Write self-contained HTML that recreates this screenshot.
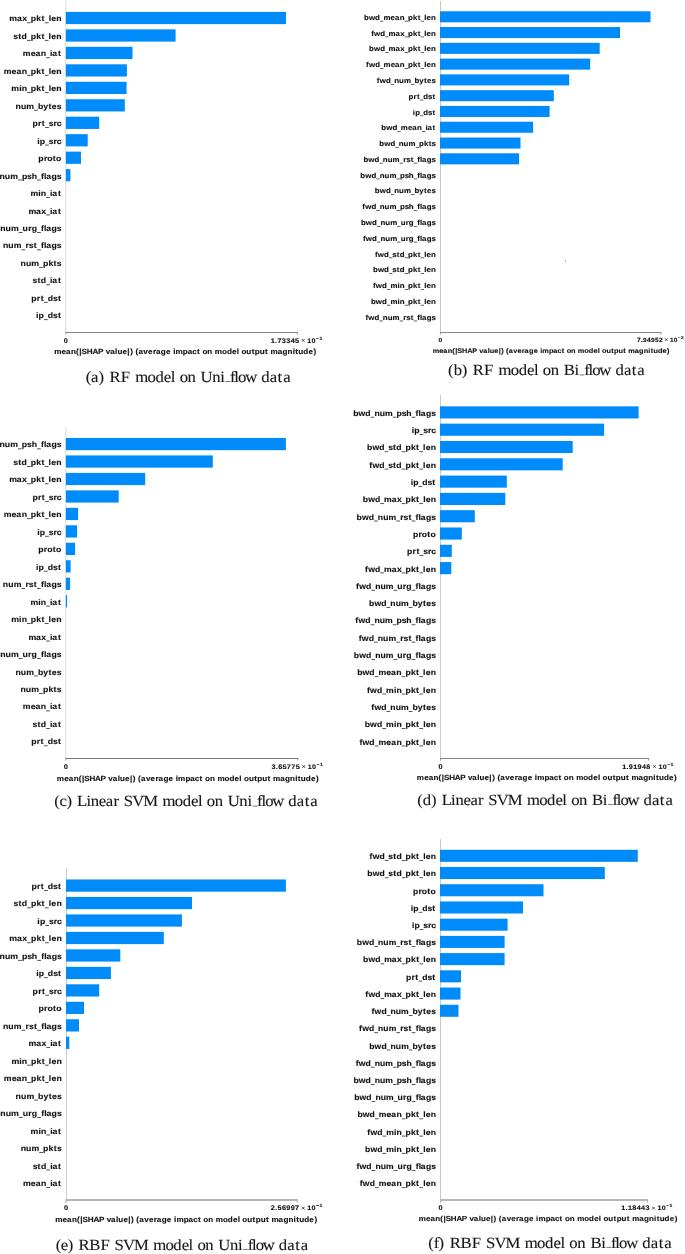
<!DOCTYPE html>
<html><head><meta charset="utf-8"><style>
html,body{margin:0;padding:0;background:#fff;}
svg{display:block;will-change:transform;}
.t{font-family:"Liberation Sans",sans-serif;font-weight:bold;fill:#111;stroke:#111;stroke-width:0.12px;text-rendering:geometricPrecision;}
.c{font-family:"Liberation Serif",serif;fill:#161616;stroke:#161616;stroke-width:0.1px;text-rendering:geometricPrecision;}
</style></head><body>
<svg width="685" height="1254" viewBox="0 0 685 1254">
<rect width="685" height="1254" fill="#fff"/>
<g id="pa">
<rect x="65" y="1" width="1" height="331.4" fill="#e6e6e6"/>
<rect x="66" y="1" width="1" height="331.4" fill="#f3f3f3"/>
<rect x="65.85" y="11.90" width="220.15" height="12.23" fill="#008bfb"/>
<rect x="65.85" y="29.37" width="109.75" height="12.23" fill="#008bfb"/>
<rect x="65.85" y="46.83" width="66.65" height="12.23" fill="#008bfb"/>
<rect x="65.85" y="64.30" width="61.05" height="12.23" fill="#008bfb"/>
<rect x="65.85" y="81.77" width="60.75" height="12.23" fill="#008bfb"/>
<rect x="65.85" y="99.23" width="58.95" height="12.23" fill="#008bfb"/>
<rect x="65.85" y="116.70" width="33.35" height="12.23" fill="#008bfb"/>
<rect x="65.85" y="134.16" width="21.85" height="12.23" fill="#008bfb"/>
<rect x="65.85" y="151.63" width="15.15" height="12.23" fill="#008bfb"/>
<rect x="65.85" y="169.09" width="4.55" height="12.23" fill="#008bfb"/>
<rect x="65.3" y="332" width="232.5" height="1" fill="#868686"/>
<rect x="65.3" y="333" width="1" height="1.6" fill="#999"/>
<rect x="296.8" y="333" width="1" height="1.6" fill="#999"/>
<text class="t" transform="scale(1.0900,1)" x="8.54 15.52 20.34 24.79 28.31 33.33 38.09 41.08 44.63 47.00 51.62" y="21.40" font-size="7.98">max pkt len</text><rect x="27.02" y="22.46" width="3.77" height="0.72" fill="#111"/><rect x="44.78" y="22.46" width="3.77" height="0.72" fill="#111"/>
<text class="t" transform="scale(1.0900,1)" x="12.28 16.83 19.82 24.77 28.29 33.31 38.07 41.06 44.61 46.98 51.60" y="38.87" font-size="7.98">std pkt len</text><rect x="27.00" y="39.92" width="3.77" height="0.72" fill="#111"/><rect x="44.76" y="39.92" width="3.77" height="0.72" fill="#111"/>
<text class="t" transform="scale(1.0900,1)" x="20.94 28.16 32.61 37.45 42.33 45.88 48.01 53.12" y="56.34" font-size="7.98">mean iat</text><rect x="46.14" y="57.39" width="3.77" height="0.72" fill="#111"/>
<text class="t" transform="scale(1.0900,1)" x="3.40 10.62 15.06 19.90 24.79 28.31 33.33 38.09 41.08 44.63 47.00 51.62" y="73.80" font-size="7.98">mean pkt len</text><rect x="27.02" y="74.86" width="3.77" height="0.72" fill="#111"/><rect x="44.78" y="74.86" width="3.77" height="0.72" fill="#111"/>
<text class="t" transform="scale(1.0900,1)" x="10.37 17.59 19.90 24.78 28.31 33.33 38.08 41.08 44.63 47.00 51.62" y="91.27" font-size="7.98">min pkt len</text><rect x="27.01" y="92.32" width="3.77" height="0.72" fill="#111"/><rect x="44.78" y="92.32" width="3.77" height="0.72" fill="#111"/>
<text class="t" transform="scale(1.0900,1)" x="14.27 19.19 24.15 31.27 34.80 39.68 44.48 47.57 52.04" y="108.73" font-size="7.98">num bytes</text><rect x="34.09" y="109.79" width="3.77" height="0.72" fill="#111"/>
<text class="t" transform="scale(1.0900,1)" x="29.79 34.89 38.37 41.37 44.70 49.16 52.05" y="126.20" font-size="7.98">prt src</text><rect x="45.09" y="127.25" width="3.77" height="0.72" fill="#111"/>
<text class="t" transform="scale(1.0900,1)" x="34.16 36.51 41.38 44.71 49.17 52.06" y="143.66" font-size="7.98">ip src</text><rect x="45.10" y="144.72" width="3.77" height="0.72" fill="#111"/>
<text class="t" transform="scale(1.0900,1)" x="35.17 40.28 43.40 48.50 51.45" y="161.13" font-size="7.98">proto</text>
<text class="t" transform="scale(1.0900,1)" x="-0.44 4.48 9.43 16.56 20.09 24.83 29.08 33.99 37.65 40.41 42.42 47.22 52.05" y="178.60" font-size="7.98">num psh flags</text><rect x="18.05" y="179.65" width="3.77" height="0.72" fill="#111"/><rect x="37.05" y="179.65" width="3.77" height="0.72" fill="#111"/>
<text class="t" transform="scale(1.0900,1)" x="27.92 35.14 37.45 42.33 45.88 48.01 53.12" y="196.06" font-size="7.98">min iat</text><rect x="46.14" y="197.12" width="3.77" height="0.72" fill="#111"/>
<text class="t" transform="scale(1.0900,1)" x="26.09 33.07 37.89 42.33 45.88 48.01 53.12" y="213.53" font-size="7.98">max iat</text><rect x="46.14" y="214.58" width="3.77" height="0.72" fill="#111"/>
<text class="t" transform="scale(1.0900,1)" x="0.25 5.17 10.12 17.25 20.74 25.85 29.02 33.97 37.64 40.40 42.40 47.21 52.03" y="230.99" font-size="7.98">num urg flags</text><rect x="18.80" y="232.05" width="3.77" height="0.72" fill="#111"/><rect x="37.03" y="232.05" width="3.77" height="0.72" fill="#111"/>
<text class="t" transform="scale(1.0900,1)" x="2.70 7.62 12.58 19.70 23.38 26.44 30.98 33.98 37.64 40.40 42.41 47.21 52.04" y="248.46" font-size="7.98">num rst flags</text><rect x="21.47" y="249.51" width="3.77" height="0.72" fill="#111"/><rect x="37.03" y="249.51" width="3.77" height="0.72" fill="#111"/>
<text class="t" transform="scale(1.0900,1)" x="18.86 23.79 28.74 35.87 39.39 44.41 49.17 52.04" y="265.93" font-size="7.98">num pkts</text><rect x="39.09" y="266.98" width="3.77" height="0.72" fill="#111"/>
<text class="t" transform="scale(1.0900,1)" x="29.87 34.41 37.40 42.35 45.90 48.03 53.14" y="283.39" font-size="7.98">std iat</text><rect x="46.16" y="284.45" width="3.77" height="0.72" fill="#111"/>
<text class="t" transform="scale(1.0900,1)" x="28.71 33.82 37.30 40.30 43.75 48.57 53.11" y="300.86" font-size="7.98">prt dst</text><rect x="43.92" y="301.91" width="3.77" height="0.72" fill="#111"/>
<text class="t" transform="scale(1.0900,1)" x="33.09 35.43 40.31 43.76 48.58 53.12" y="318.32" font-size="7.98">ip dst</text><rect x="43.93" y="319.38" width="3.77" height="0.72" fill="#111"/>
<text class="t" transform="scale(1.0900,1)" x="49.80 56.53 60.67 65.18 69.79 72.80 74.87 79.67 84.86 89.93 94.74 97.01 101.05 105.61 107.77 112.40 116.81 119.40 121.97 124.28 127.02 131.53 135.78 140.27 143.10 147.57 152.28 156.55 158.88 161.07 167.77 172.18 176.39 180.76 183.55 185.74 190.24 194.80 197.11 203.70 208.16 212.86 217.23 219.35 221.54 226.04 230.88 233.74 238.31 243.14 245.94 248.25 254.75 259.23 263.87 268.51 270.91 273.74 278.28 282.98 287.63" y="353.80" font-size="7.44">mean(|SHAP value|) (average impact on model output magnitude)</text>
<text class="t" transform="scale(1.0900,1)" x="58.54" y="342.70" font-size="6.75">0</text>
<text class="t" transform="scale(1.0900,1)" x="248.29 252.35 254.51 258.59 262.63 266.66 270.73" y="342.70" font-size="6.72">1.73345</text>
<path d="M301.90 339.05L304.60 341.75M301.90 341.75L304.60 339.05" stroke="#111" stroke-width="0.75" fill="none"/>
<text class="t" transform="scale(1.0900,1)" x="281.88 285.84" y="342.70" font-size="6.55">10</text>
<text class="t" transform="scale(1.0900,1)" x="289.90 293.12" y="339.70" font-size="4.75">−1</text>
<text class="c" transform="scale(1.0700,1)" x="80.04 85.16 92.13 97.67 102.29 112.92 121.86 126.37 137.84 145.29 153.07 159.55 163.60 167.88 175.29 183.11 187.43 198.31 205.91" y="382.00" font-size="15.63">(a) RF model on Uni</text>
<rect x="225.65" y="381.32" width="4.51" height="0.68" fill="#333"/>
<text class="c" transform="scale(1.0700,1)" x="214.98 219.04 222.51 229.20 239.68 244.19 252.15 259.46 264.64" y="382.00" font-size="15.63">flow data</text>
</g>
<g id="pb">
<rect x="440" y="1" width="1" height="331.4" fill="#c6c6c6"/>
<rect x="440.00" y="11.26" width="210.50" height="11.05" fill="#008bfb"/>
<rect x="440.00" y="27.04" width="180.00" height="11.05" fill="#008bfb"/>
<rect x="440.00" y="42.82" width="159.70" height="11.05" fill="#008bfb"/>
<rect x="440.00" y="58.60" width="150.20" height="11.05" fill="#008bfb"/>
<rect x="440.00" y="74.38" width="129.20" height="11.05" fill="#008bfb"/>
<rect x="440.00" y="90.16" width="113.80" height="11.05" fill="#008bfb"/>
<rect x="440.00" y="105.94" width="109.60" height="11.05" fill="#008bfb"/>
<rect x="440.00" y="121.72" width="93.10" height="11.05" fill="#008bfb"/>
<rect x="440.00" y="137.51" width="80.50" height="11.05" fill="#008bfb"/>
<rect x="440.00" y="153.29" width="79.10" height="11.05" fill="#008bfb"/>
<rect x="439.9" y="332" width="221.5" height="1" fill="#888888"/>
<rect x="439.9" y="333" width="1" height="1.6" fill="#999"/>
<rect x="660.4" y="333" width="1" height="1.6" fill="#999"/>
<text class="t" transform="scale(1.0900,1)" x="333.94 338.43 344.13 348.62 351.81 358.35 362.38 366.76 371.18 374.38 378.93 383.23 385.94 389.16 391.30 395.49" y="19.85" font-size="7.23">bwd mean pkt len</text><rect x="379.99" y="20.80" width="3.41" height="0.65" fill="#111"/><rect x="404.59" y="20.80" width="3.41" height="0.65" fill="#111"/><rect x="420.68" y="20.80" width="3.41" height="0.65" fill="#111"/>
<text class="t" transform="scale(1.0900,1)" x="340.51 343.12 348.82 353.30 356.50 362.82 367.19 371.21 374.40 378.95 383.26 385.97 389.18 391.33 395.51" y="35.63" font-size="7.23">fwd max pkt len</text><rect x="385.10" y="36.59" width="3.41" height="0.65" fill="#111"/><rect x="404.62" y="36.59" width="3.41" height="0.65" fill="#111"/><rect x="420.71" y="36.59" width="3.41" height="0.65" fill="#111"/>
<text class="t" transform="scale(1.0900,1)" x="338.64 343.12 348.83 353.31 356.50 362.83 367.19 371.21 374.41 378.96 383.26 385.97 389.19 391.33 395.52" y="51.41" font-size="7.23">bwd max pkt len</text><rect x="385.11" y="52.37" width="3.41" height="0.65" fill="#111"/><rect x="404.62" y="52.37" width="3.41" height="0.65" fill="#111"/><rect x="420.71" y="52.37" width="3.41" height="0.65" fill="#111"/>
<text class="t" transform="scale(1.0900,1)" x="335.85 338.46 344.16 348.64 351.84 358.38 362.40 366.79 371.21 374.41 378.95 383.26 385.97 389.18 391.33 395.52" y="67.19" font-size="7.23">fwd mean pkt len</text><rect x="380.02" y="68.15" width="3.41" height="0.65" fill="#111"/><rect x="404.62" y="68.15" width="3.41" height="0.65" fill="#111"/><rect x="420.71" y="68.15" width="3.41" height="0.65" fill="#111"/>
<text class="t" transform="scale(1.0900,1)" x="345.74 348.34 354.05 358.53 361.69 366.14 370.63 377.08 380.28 384.70 389.05 391.85 395.89" y="82.97" font-size="7.23">fwd num bytes</text><rect x="390.80" y="83.93" width="3.41" height="0.65" fill="#111"/><rect x="411.02" y="83.93" width="3.41" height="0.65" fill="#111"/>
<text class="t" transform="scale(1.0900,1)" x="374.77 379.39 382.55 385.26 388.38 392.76 396.87" y="98.75" font-size="7.23">prt dst</text><rect x="419.93" y="99.71" width="3.41" height="0.65" fill="#111"/>
<text class="t" transform="scale(1.0900,1)" x="378.73 380.86 385.27 388.39 392.77 396.88" y="114.54" font-size="7.23">ip dst</text><rect x="419.94" y="115.49" width="3.41" height="0.65" fill="#111"/>
<text class="t" transform="scale(1.0900,1)" x="349.87 354.35 360.06 364.54 367.74 374.27 378.30 382.68 387.11 390.32 392.25 396.88" y="130.32" font-size="7.23">bwd mean iat</text><rect x="397.35" y="131.27" width="3.41" height="0.65" fill="#111"/><rect x="421.95" y="131.27" width="3.41" height="0.65" fill="#111"/>
<text class="t" transform="scale(1.0900,1)" x="348.02 352.51 358.21 362.69 365.85 370.31 374.80 381.25 384.45 388.99 393.30 395.90" y="146.10" font-size="7.23">bwd num pkts</text><rect x="395.34" y="147.05" width="3.41" height="0.65" fill="#111"/><rect x="415.56" y="147.05" width="3.41" height="0.65" fill="#111"/>
<text class="t" transform="scale(1.0900,1)" x="333.38 337.87 343.57 348.05 351.21 355.67 360.16 366.61 369.95 372.71 376.83 379.54 382.86 385.36 387.17 391.52 395.89" y="161.88" font-size="7.23">bwd num rst flags</text><rect x="379.38" y="162.83" width="3.41" height="0.65" fill="#111"/><rect x="399.60" y="162.83" width="3.41" height="0.65" fill="#111"/><rect x="413.70" y="162.83" width="3.41" height="0.65" fill="#111"/>
<text class="t" transform="scale(1.0900,1)" x="330.53 335.02 340.72 345.21 348.36 352.82 357.31 363.76 366.96 371.26 375.11 379.55 382.87 385.37 387.18 391.53 395.90" y="177.66" font-size="7.23">bwd num psh flags</text><rect x="376.27" y="178.61" width="3.41" height="0.65" fill="#111"/><rect x="396.50" y="178.61" width="3.41" height="0.65" fill="#111"/><rect x="413.71" y="178.61" width="3.41" height="0.65" fill="#111"/>
<text class="t" transform="scale(1.0900,1)" x="343.86 348.35 354.05 358.53 361.69 366.15 370.64 377.09 380.28 384.71 389.05 391.85 395.90" y="193.44" font-size="7.23">bwd num bytes</text><rect x="390.80" y="194.40" width="3.41" height="0.65" fill="#111"/><rect x="411.03" y="194.40" width="3.41" height="0.65" fill="#111"/>
<text class="t" transform="scale(1.0900,1)" x="332.41 335.02 340.72 345.20 348.36 352.82 357.31 363.76 366.95 371.25 375.10 379.54 382.86 385.36 387.18 391.53 395.90" y="209.22" font-size="7.23">fwd num psh flags</text><rect x="376.27" y="210.18" width="3.41" height="0.65" fill="#111"/><rect x="396.50" y="210.18" width="3.41" height="0.65" fill="#111"/><rect x="413.70" y="210.18" width="3.41" height="0.65" fill="#111"/>
<text class="t" transform="scale(1.0900,1)" x="331.16 335.65 341.35 345.83 348.99 353.45 357.94 364.39 367.55 372.18 375.05 379.54 382.85 385.36 387.17 391.52 395.89" y="225.00" font-size="7.23">bwd num urg flags</text><rect x="376.96" y="225.96" width="3.41" height="0.65" fill="#111"/><rect x="397.18" y="225.96" width="3.41" height="0.65" fill="#111"/><rect x="413.69" y="225.96" width="3.41" height="0.65" fill="#111"/>
<text class="t" transform="scale(1.0900,1)" x="333.03 335.64 341.34 345.83 348.98 353.44 357.93 364.38 367.55 372.17 375.05 379.53 382.85 385.35 387.17 391.52 395.89" y="240.78" font-size="7.23">fwd num urg flags</text><rect x="376.95" y="241.74" width="3.41" height="0.65" fill="#111"/><rect x="397.18" y="241.74" width="3.41" height="0.65" fill="#111"/><rect x="413.69" y="241.74" width="3.41" height="0.65" fill="#111"/>
<text class="t" transform="scale(1.0900,1)" x="344.08 346.68 352.39 356.87 359.89 364.00 366.71 371.19 374.39 378.93 383.24 385.95 389.17 391.31 395.50" y="256.56" font-size="7.23">fwd std pkt len</text><rect x="388.99" y="257.52" width="3.41" height="0.65" fill="#111"/><rect x="404.60" y="257.52" width="3.41" height="0.65" fill="#111"/><rect x="420.69" y="257.52" width="3.41" height="0.65" fill="#111"/>
<text class="t" transform="scale(1.0900,1)" x="342.20 346.69 352.39 356.87 359.89 364.00 366.72 371.20 374.39 378.94 383.24 385.96 389.17 391.32 395.50" y="272.35" font-size="7.23">bwd std pkt len</text><rect x="388.99" y="273.30" width="3.41" height="0.65" fill="#111"/><rect x="404.60" y="273.30" width="3.41" height="0.65" fill="#111"/><rect x="420.69" y="273.30" width="3.41" height="0.65" fill="#111"/>
<text class="t" transform="scale(1.0900,1)" x="342.17 344.78 350.48 354.96 358.16 364.69 366.78 371.21 374.40 378.95 383.25 385.97 389.18 391.33 395.51" y="288.13" font-size="7.23">fwd min pkt len</text><rect x="386.91" y="289.08" width="3.41" height="0.65" fill="#111"/><rect x="404.62" y="289.08" width="3.41" height="0.65" fill="#111"/><rect x="420.71" y="289.08" width="3.41" height="0.65" fill="#111"/>
<text class="t" transform="scale(1.0900,1)" x="340.29 344.78 350.48 354.97 358.16 364.70 366.79 371.21 374.41 378.95 383.26 385.97 389.19 391.33 395.52" y="303.91" font-size="7.23">bwd min pkt len</text><rect x="386.91" y="304.86" width="3.41" height="0.65" fill="#111"/><rect x="404.62" y="304.86" width="3.41" height="0.65" fill="#111"/><rect x="420.71" y="304.86" width="3.41" height="0.65" fill="#111"/>
<text class="t" transform="scale(1.0900,1)" x="335.26 337.86 343.57 348.05 351.21 355.66 360.15 366.60 369.94 372.71 376.82 379.53 382.85 385.35 387.17 391.52 395.89" y="319.69" font-size="7.23">fwd num rst flags</text><rect x="379.37" y="320.64" width="3.41" height="0.65" fill="#111"/><rect x="399.60" y="320.64" width="3.41" height="0.65" fill="#111"/><rect x="413.69" y="320.64" width="3.41" height="0.65" fill="#111"/>
<text class="t" transform="scale(1.0900,1)" x="396.91 402.99 406.74 410.82 415.00 417.72 419.58 423.93 428.62 433.21 437.56 439.62 443.26 447.39 449.34 453.54 457.53 459.87 462.19 464.28 466.76 470.84 474.69 478.75 481.30 485.35 489.60 493.47 495.58 497.56 503.62 507.61 511.42 515.37 517.89 519.88 523.95 528.07 530.16 536.12 540.16 544.41 548.36 550.27 552.26 556.33 560.71 563.29 567.43 571.80 574.33 576.42 582.30 586.35 590.55 594.74 596.92 599.47 603.59 607.84 612.04" y="352.60" font-size="6.73">mean(|SHAP value|) (average impact on model output magnitude)</text>
<text class="t" transform="scale(1.0900,1)" x="402.34" y="341.73" font-size="6.12">0</text>
<text class="t" transform="scale(1.0900,1)" x="584.40 588.09 590.03 593.67 597.30 600.97 604.61" y="341.73" font-size="6.04">7.94952</text>
<path d="M665.07 338.42L667.51 340.87M665.07 340.87L667.51 338.42" stroke="#111" stroke-width="0.68" fill="none"/>
<text class="t" transform="scale(1.0900,1)" x="614.60 618.19" y="341.73" font-size="5.93">10</text>
<text class="t" transform="scale(1.0900,1)" x="621.86 624.82" y="339.01" font-size="4.35">−2</text>
<text class="c" transform="scale(1.0700,1)" x="418.73 424.14 431.60 437.13 441.75 452.37 461.30 465.82 477.27 484.71 492.49 498.96 503.02 507.29 514.69 522.51 526.92 536.90" y="375.30" font-size="15.62">(b) RF model on Bi</text>
<rect x="579.80" y="374.62" width="4.51" height="0.68" fill="#333"/>
<text class="c" transform="scale(1.0700,1)" x="545.96 550.02 553.49 560.17 570.64 575.14 583.10 590.40 595.58" y="375.30" font-size="15.62">flow data</text>
<rect x="565" y="260" width="1" height="2" fill="#b4b4b4"/>
</g>
<g id="pc">
<rect x="65" y="427" width="1" height="331.5" fill="#e6e6e6"/>
<rect x="66" y="427" width="1" height="331.5" fill="#f3f3f3"/>
<rect x="65.85" y="437.95" width="220.05" height="12.23" fill="#008bfb"/>
<rect x="65.85" y="455.42" width="146.95" height="12.23" fill="#008bfb"/>
<rect x="65.85" y="472.89" width="79.35" height="12.23" fill="#008bfb"/>
<rect x="65.85" y="490.36" width="52.85" height="12.23" fill="#008bfb"/>
<rect x="65.85" y="507.83" width="12.25" height="12.23" fill="#008bfb"/>
<rect x="65.85" y="525.30" width="11.25" height="12.23" fill="#008bfb"/>
<rect x="65.85" y="542.76" width="9.25" height="12.23" fill="#008bfb"/>
<rect x="65.85" y="560.23" width="4.75" height="12.23" fill="#008bfb"/>
<rect x="65.85" y="577.70" width="4.25" height="12.23" fill="#008bfb"/>
<rect x="65.85" y="595.17" width="1.15" height="12.23" fill="#008bfb"/>
<rect x="65.3" y="758" width="233.0" height="1" fill="#777777"/>
<rect x="65.3" y="759" width="1" height="1.6" fill="#999"/>
<rect x="297.3" y="759" width="1" height="1.6" fill="#999"/>
<text class="t" transform="scale(1.0900,1)" x="-0.52 4.41 9.37 16.51 20.04 24.79 29.05 33.96 37.63 40.39 42.40 47.21 52.04" y="447.46" font-size="7.99">num psh flags</text><rect x="17.99" y="448.52" width="3.77" height="0.72" fill="#111"/><rect x="37.01" y="448.52" width="3.77" height="0.72" fill="#111"/>
<text class="t" transform="scale(1.0900,1)" x="12.23 16.77 19.77 24.72 28.26 33.28 38.04 41.04 44.60 46.97 51.60" y="464.93" font-size="7.99">std pkt len</text><rect x="26.95" y="465.99" width="3.77" height="0.72" fill="#111"/><rect x="44.74" y="465.99" width="3.77" height="0.72" fill="#111"/>
<text class="t" transform="scale(1.0900,1)" x="8.48 15.47 20.29 24.74 28.28 33.30 38.06 41.06 44.61 46.99 51.62" y="482.40" font-size="7.99">max pkt len</text><rect x="26.97" y="483.45" width="3.77" height="0.72" fill="#111"/><rect x="44.76" y="483.45" width="3.77" height="0.72" fill="#111"/>
<text class="t" transform="scale(1.0900,1)" x="29.75 34.86 38.35 41.35 44.68 49.15 52.05" y="499.87" font-size="7.99">prt src</text><rect x="45.07" y="500.92" width="3.77" height="0.72" fill="#111"/>
<text class="t" transform="scale(1.0900,1)" x="3.33 10.56 15.01 19.85 24.74 28.28 33.30 38.06 41.06 44.62 46.99 51.62" y="517.34" font-size="7.99">mean pkt len</text><rect x="26.97" y="518.39" width="3.77" height="0.72" fill="#111"/><rect x="44.76" y="518.39" width="3.77" height="0.72" fill="#111"/>
<text class="t" transform="scale(1.0900,1)" x="34.13 36.48 41.36 44.69 49.16 52.06" y="534.80" font-size="7.99">ip src</text><rect x="45.08" y="535.86" width="3.77" height="0.72" fill="#111"/>
<text class="t" transform="scale(1.0900,1)" x="35.15 40.25 43.38 48.50 51.44" y="552.27" font-size="7.99">proto</text>
<text class="t" transform="scale(1.0900,1)" x="33.06 35.41 40.29 43.74 48.57 53.12" y="569.74" font-size="7.99">ip dst</text><rect x="43.91" y="570.80" width="3.77" height="0.72" fill="#111"/>
<text class="t" transform="scale(1.0900,1)" x="2.63 7.56 12.52 19.65 23.34 26.40 30.95 33.95 37.62 40.38 42.39 47.20 52.03" y="587.21" font-size="7.99">num rst flags</text><rect x="21.42" y="588.26" width="3.77" height="0.72" fill="#111"/><rect x="37.00" y="588.26" width="3.77" height="0.72" fill="#111"/>
<text class="t" transform="scale(1.0900,1)" x="27.88 35.11 37.42 42.31 45.87 48.00 53.12" y="604.68" font-size="7.99">min iat</text><rect x="46.12" y="605.73" width="3.77" height="0.72" fill="#111"/>
<text class="t" transform="scale(1.0900,1)" x="10.31 17.54 19.85 24.74 28.28 33.30 38.06 41.06 44.61 46.99 51.61" y="622.15" font-size="7.99">min pkt len</text><rect x="26.97" y="623.20" width="3.77" height="0.72" fill="#111"/><rect x="44.76" y="623.20" width="3.77" height="0.72" fill="#111"/>
<text class="t" transform="scale(1.0900,1)" x="26.05 33.04 37.87 42.31 45.87 48.00 53.12" y="639.61" font-size="7.99">max iat</text><rect x="46.12" y="640.67" width="3.77" height="0.72" fill="#111"/>
<text class="t" transform="scale(1.0900,1)" x="0.17 5.10 10.06 17.20 20.69 25.81 28.99 33.94 37.61 40.38 42.39 47.19 52.03" y="657.08" font-size="7.99">num urg flags</text><rect x="18.74" y="658.14" width="3.77" height="0.72" fill="#111"/><rect x="37.00" y="658.14" width="3.77" height="0.72" fill="#111"/>
<text class="t" transform="scale(1.0900,1)" x="14.21 19.14 24.11 31.24 34.77 39.66 44.47 47.56 52.03" y="674.55" font-size="7.99">num bytes</text><rect x="34.05" y="675.61" width="3.77" height="0.72" fill="#111"/>
<text class="t" transform="scale(1.0900,1)" x="18.81 23.74 28.71 35.84 39.37 44.40 49.16 52.03" y="692.02" font-size="7.99">num pkts</text><rect x="39.06" y="693.07" width="3.77" height="0.72" fill="#111"/>
<text class="t" transform="scale(1.0900,1)" x="20.90 28.13 32.58 37.42 42.31 45.87 48.00 53.12" y="709.49" font-size="7.99">mean iat</text><rect x="46.12" y="710.54" width="3.77" height="0.72" fill="#111"/>
<text class="t" transform="scale(1.0900,1)" x="29.83 34.38 37.37 42.33 45.88 48.02 53.13" y="726.96" font-size="7.99">std iat</text><rect x="46.14" y="728.01" width="3.77" height="0.72" fill="#111"/>
<text class="t" transform="scale(1.0900,1)" x="28.68 33.79 37.27 40.27 43.73 48.56 53.11" y="744.42" font-size="7.99">prt dst</text><rect x="43.90" y="745.48" width="3.77" height="0.72" fill="#111"/>
<text class="t" transform="scale(1.0900,1)" x="52.18 58.91 63.05 67.55 72.17 75.18 77.24 82.04 87.23 92.30 97.11 99.38 103.41 107.98 110.13 114.76 119.17 121.76 124.33 126.64 129.38 133.88 138.14 142.62 145.45 149.92 154.62 158.90 161.22 163.41 170.11 174.52 178.73 183.09 185.88 188.08 192.58 197.13 199.44 206.02 210.49 215.19 219.55 221.67 223.86 228.36 233.19 236.05 240.63 245.46 248.25 250.56 257.06 261.53 266.17 270.81 273.21 276.04 280.58 285.28 289.92" y="780.50" font-size="7.43">mean(|SHAP value|) (average impact on model output magnitude)</text>
<text class="t" transform="scale(1.0900,1)" x="58.54" y="768.81" font-size="6.76">0</text>
<text class="t" transform="scale(1.0900,1)" x="249.00 253.03 255.22 259.21 263.18 267.18 271.23" y="768.81" font-size="6.65">3.65775</text>
<path d="M302.41 765.16L305.11 767.86M302.41 767.86L305.11 765.16" stroke="#111" stroke-width="0.75" fill="none"/>
<text class="t" transform="scale(1.0900,1)" x="282.35 286.32" y="768.81" font-size="6.56">10</text>
<text class="t" transform="scale(1.0900,1)" x="290.38 293.61" y="765.81" font-size="4.76">−1</text>
<text class="c" transform="scale(1.0700,1)" x="50.79 55.53 62.07 67.61 72.06 80.82 84.92 92.35 98.95 106.05 111.47 115.67 123.58 133.93 147.32 151.83 163.28 170.72 178.49 184.95 189.00 193.28 200.67 208.48 212.80 223.66 231.25" y="806.40" font-size="15.61">(c) Linear SVM model on Uni</text>
<rect x="252.75" y="805.72" width="4.50" height="0.68" fill="#333"/>
<text class="c" transform="scale(1.0700,1)" x="240.31 244.35 247.82 254.50 264.96 269.46 277.41 284.71 289.88" y="806.40" font-size="15.61">flow data</text>
</g>
<g id="pd">
<rect x="440" y="395" width="1" height="363.5" fill="#cbcbcb"/>
<rect x="440.00" y="406.35" width="198.60" height="12.11" fill="#008bfb"/>
<rect x="440.00" y="423.65" width="164.10" height="12.11" fill="#008bfb"/>
<rect x="440.00" y="440.96" width="132.70" height="12.11" fill="#008bfb"/>
<rect x="440.00" y="458.26" width="122.70" height="12.11" fill="#008bfb"/>
<rect x="440.00" y="475.57" width="66.80" height="12.11" fill="#008bfb"/>
<rect x="440.00" y="492.87" width="65.30" height="12.11" fill="#008bfb"/>
<rect x="440.00" y="510.18" width="34.80" height="12.11" fill="#008bfb"/>
<rect x="440.00" y="527.48" width="21.80" height="12.11" fill="#008bfb"/>
<rect x="440.00" y="544.79" width="11.80" height="12.11" fill="#008bfb"/>
<rect x="440.00" y="562.09" width="11.30" height="12.11" fill="#008bfb"/>
<rect x="440.0" y="758" width="209.1" height="1" fill="#838383"/>
<rect x="440.0" y="759" width="1" height="1.6" fill="#999"/>
<rect x="648.1" y="759" width="1" height="1.6" fill="#999"/>
<text class="t" transform="scale(1.0900,1)" x="323.97 328.88 335.13 340.04 343.49 348.38 353.29 360.36 363.86 368.57 372.78 377.65 381.29 384.03 386.01 390.78 395.57" y="415.77" font-size="7.92">bwd num psh flags</text><rect x="370.64" y="416.81" width="3.73" height="0.71" fill="#111"/><rect x="392.79" y="416.81" width="3.73" height="0.71" fill="#111"/><rect x="411.64" y="416.81" width="3.73" height="0.71" fill="#111"/>
<text class="t" transform="scale(1.0900,1)" x="377.82 380.15 384.98 388.28 392.71 395.58" y="433.07" font-size="7.92">ip src</text><rect x="419.63" y="434.12" width="3.73" height="0.71" fill="#111"/>
<text class="t" transform="scale(1.0900,1)" x="336.75 341.66 347.91 352.82 356.12 360.63 363.60 368.50 372.00 376.98 381.70 384.67 388.19 390.54 395.13" y="450.38" font-size="7.92">bwd std pkt len</text><rect x="384.57" y="451.42" width="3.73" height="0.71" fill="#111"/><rect x="401.67" y="451.42" width="3.73" height="0.71" fill="#111"/><rect x="419.29" y="451.42" width="3.73" height="0.71" fill="#111"/>
<text class="t" transform="scale(1.0900,1)" x="338.80 341.66 347.90 352.81 356.12 360.62 363.59 368.50 372.00 376.98 381.69 384.67 388.19 390.54 395.12" y="467.68" font-size="7.92">fwd std pkt len</text><rect x="384.56" y="468.73" width="3.73" height="0.71" fill="#111"/><rect x="401.66" y="468.73" width="3.73" height="0.71" fill="#111"/><rect x="419.28" y="468.73" width="3.73" height="0.71" fill="#111"/>
<text class="t" transform="scale(1.0900,1)" x="376.76 379.08 383.92 387.34 392.13 396.63" y="484.99" font-size="7.92">ip dst</text><rect x="418.47" y="486.03" width="3.73" height="0.71" fill="#111"/>
<text class="t" transform="scale(1.0900,1)" x="332.84 337.76 344.00 348.91 352.41 359.34 364.12 368.52 372.02 377.00 381.72 384.69 388.21 390.56 395.15" y="502.29" font-size="7.92">bwd max pkt len</text><rect x="380.31" y="503.34" width="3.73" height="0.71" fill="#111"/><rect x="401.69" y="503.34" width="3.73" height="0.71" fill="#111"/><rect x="419.31" y="503.34" width="3.73" height="0.71" fill="#111"/>
<text class="t" transform="scale(1.0900,1)" x="327.08 332.00 338.24 343.15 346.61 351.50 356.41 363.48 367.13 370.16 374.67 377.64 381.28 384.02 386.00 390.77 395.56" y="519.59" font-size="7.92">bwd num rst flags</text><rect x="374.04" y="520.64" width="3.73" height="0.71" fill="#111"/><rect x="396.19" y="520.64" width="3.73" height="0.71" fill="#111"/><rect x="411.63" y="520.64" width="3.73" height="0.71" fill="#111"/>
<text class="t" transform="scale(1.0900,1)" x="378.83 383.89 386.99 392.05 394.97" y="536.90" font-size="7.92">proto</text>
<text class="t" transform="scale(1.0900,1)" x="373.48 378.54 382.00 384.97 388.27 392.70 395.57" y="554.20" font-size="7.92">prt src</text><rect x="419.62" y="555.25" width="3.73" height="0.71" fill="#111"/>
<text class="t" transform="scale(1.0900,1)" x="334.89 337.75 344.00 348.91 352.41 359.33 364.11 368.52 372.02 377.00 381.71 384.68 388.20 390.56 395.14" y="571.51" font-size="7.92">fwd max pkt len</text><rect x="380.31" y="572.55" width="3.73" height="0.71" fill="#111"/><rect x="401.68" y="572.55" width="3.73" height="0.71" fill="#111"/><rect x="419.31" y="572.55" width="3.73" height="0.71" fill="#111"/>
<text class="t" transform="scale(1.0900,1)" x="326.70 329.56 335.81 340.72 344.17 349.06 353.97 361.04 364.51 369.57 372.72 377.63 381.27 384.01 386.00 390.76 395.55" y="588.81" font-size="7.92">fwd num urg flags</text><rect x="371.38" y="589.86" width="3.73" height="0.71" fill="#111"/><rect x="393.53" y="589.86" width="3.73" height="0.71" fill="#111"/><rect x="411.62" y="589.86" width="3.73" height="0.71" fill="#111"/>
<text class="t" transform="scale(1.0900,1)" x="338.56 343.48 349.72 354.63 358.09 362.98 367.89 374.96 378.46 383.30 388.06 391.13 395.56" y="606.12" font-size="7.92">bwd num bytes</text><rect x="386.55" y="607.16" width="3.73" height="0.71" fill="#111"/><rect x="408.70" y="607.16" width="3.73" height="0.71" fill="#111"/>
<text class="t" transform="scale(1.0900,1)" x="326.02 328.87 335.12 340.03 343.49 348.37 353.29 360.36 363.86 368.57 372.78 377.65 381.28 384.02 386.01 390.77 395.56" y="623.42" font-size="7.92">fwd num psh flags</text><rect x="370.63" y="624.47" width="3.73" height="0.71" fill="#111"/><rect x="392.79" y="624.47" width="3.73" height="0.71" fill="#111"/><rect x="411.63" y="624.47" width="3.73" height="0.71" fill="#111"/>
<text class="t" transform="scale(1.0900,1)" x="329.14 331.99 338.24 343.15 346.61 351.49 356.41 363.47 367.13 370.16 374.66 377.64 381.27 384.01 386.00 390.76 395.55" y="640.73" font-size="7.92">fwd num rst flags</text><rect x="374.03" y="641.77" width="3.73" height="0.71" fill="#111"/><rect x="396.19" y="641.77" width="3.73" height="0.71" fill="#111"/><rect x="411.62" y="641.77" width="3.73" height="0.71" fill="#111"/>
<text class="t" transform="scale(1.0900,1)" x="324.65 329.57 335.81 340.72 344.18 349.06 353.98 361.05 364.51 369.58 372.73 377.64 381.27 384.01 386.00 390.77 395.55" y="658.03" font-size="7.92">bwd num urg flags</text><rect x="371.39" y="659.08" width="3.73" height="0.71" fill="#111"/><rect x="393.54" y="659.08" width="3.73" height="0.71" fill="#111"/><rect x="411.62" y="659.08" width="3.73" height="0.71" fill="#111"/>
<text class="t" transform="scale(1.0900,1)" x="327.70 332.62 338.86 343.77 347.27 354.43 358.84 363.64 368.49 371.99 376.97 381.68 384.66 388.18 390.53 395.11" y="675.34" font-size="7.92">bwd mean pkt len</text><rect x="374.71" y="676.38" width="3.73" height="0.71" fill="#111"/><rect x="401.65" y="676.38" width="3.73" height="0.71" fill="#111"/><rect x="419.27" y="676.38" width="3.73" height="0.71" fill="#111"/>
<text class="t" transform="scale(1.0900,1)" x="336.71 339.57 345.81 350.72 354.22 361.38 363.67 368.52 372.02 377.00 381.71 384.68 388.20 390.55 395.14" y="692.64" font-size="7.92">fwd min pkt len</text><rect x="382.29" y="693.69" width="3.73" height="0.71" fill="#111"/><rect x="401.68" y="693.69" width="3.73" height="0.71" fill="#111"/><rect x="419.30" y="693.69" width="3.73" height="0.71" fill="#111"/>
<text class="t" transform="scale(1.0900,1)" x="340.62 343.47 349.72 354.63 358.09 362.97 367.89 374.95 378.45 383.30 388.06 391.12 395.56" y="709.95" font-size="7.92">fwd num bytes</text><rect x="386.54" y="710.99" width="3.73" height="0.71" fill="#111"/><rect x="408.70" y="710.99" width="3.73" height="0.71" fill="#111"/>
<text class="t" transform="scale(1.0900,1)" x="334.66 339.57 345.82 350.73 354.23 361.39 363.68 368.52 372.02 377.00 381.72 384.69 388.21 390.56 395.14" y="727.25" font-size="7.92">bwd min pkt len</text><rect x="382.29" y="728.30" width="3.73" height="0.71" fill="#111"/><rect x="401.69" y="728.30" width="3.73" height="0.71" fill="#111"/><rect x="419.31" y="728.30" width="3.73" height="0.71" fill="#111"/>
<text class="t" transform="scale(1.0900,1)" x="329.79 332.64 338.89 343.80 347.30 354.46 358.87 363.67 368.52 372.02 377.00 381.71 384.68 388.20 390.56 395.14" y="744.56" font-size="7.92">fwd mean pkt len</text><rect x="374.74" y="745.60" width="3.73" height="0.71" fill="#111"/><rect x="401.69" y="745.60" width="3.73" height="0.71" fill="#111"/><rect x="419.31" y="745.60" width="3.73" height="0.71" fill="#111"/>
<text class="t" transform="scale(1.0900,1)" x="382.46 389.14 393.24 397.72 402.30 405.28 407.33 412.09 417.24 422.27 427.05 429.30 433.30 437.83 439.96 444.56 448.94 451.50 454.05 456.34 459.06 463.53 467.76 472.21 475.01 479.45 484.11 488.36 490.67 492.84 499.49 503.86 508.04 512.37 515.14 517.31 521.78 526.29 528.59 535.12 539.55 544.22 548.54 550.65 552.82 557.29 562.08 564.92 569.46 574.25 577.02 579.31 585.77 590.20 594.81 599.41 601.80 604.60 609.11 613.77 618.38" y="779.90" font-size="7.38">mean(|SHAP value|) (average impact on model output magnitude)</text>
<text class="t" transform="scale(1.0900,1)" x="402.27" y="768.72" font-size="6.70">0</text>
<text class="t" transform="scale(1.0900,1)" x="570.78 574.80 576.93 580.98 584.94 588.96 593.00" y="768.72" font-size="6.65">1.91948</text>
<path d="M653.16 765.10L655.84 767.78M653.16 767.78L655.84 765.10" stroke="#111" stroke-width="0.74" fill="none"/>
<text class="t" transform="scale(1.0900,1)" x="604.10 608.03" y="768.72" font-size="6.50">10</text>
<text class="t" transform="scale(1.0900,1)" x="612.05 615.26" y="765.74" font-size="4.72">−1</text>
<text class="c" transform="scale(1.0700,1)" x="390.04 395.00 402.87 408.39 412.84 421.58 425.68 433.09 439.67 446.77 452.18 456.36 464.26 474.59 487.95 492.45 503.88 511.30 519.06 525.51 529.55 533.82 541.19 548.99 553.39 563.34" y="804.90" font-size="15.58">(d) Linear SVM model on Bi</text>
<rect x="608.08" y="804.23" width="4.49" height="0.67" fill="#333"/>
<text class="c" transform="scale(1.0700,1)" x="572.38 576.42 579.88 586.54 596.99 601.48 609.41 616.70 621.86" y="804.90" font-size="15.58">flow data</text>
</g>
<g id="pe">
<rect x="66" y="868" width="1" height="332.1" fill="#cccccc"/>
<rect x="66.00" y="879.46" width="219.90" height="12.23" fill="#008bfb"/>
<rect x="66.00" y="896.93" width="126.00" height="12.23" fill="#008bfb"/>
<rect x="66.00" y="914.41" width="115.90" height="12.23" fill="#008bfb"/>
<rect x="66.00" y="931.88" width="97.80" height="12.23" fill="#008bfb"/>
<rect x="66.00" y="949.35" width="54.30" height="12.23" fill="#008bfb"/>
<rect x="66.00" y="966.83" width="44.90" height="12.23" fill="#008bfb"/>
<rect x="66.00" y="984.30" width="33.20" height="12.23" fill="#008bfb"/>
<rect x="66.00" y="1001.77" width="18.00" height="12.23" fill="#008bfb"/>
<rect x="66.00" y="1019.25" width="13.00" height="12.23" fill="#008bfb"/>
<rect x="66.00" y="1036.72" width="3.30" height="12.23" fill="#008bfb"/>
<rect x="65.5" y="1199" width="232.3" height="1" fill="#b6b6b6"/>
<rect x="65.5" y="1200" width="232.3" height="1" fill="#b6b6b6"/>
<rect x="65.5" y="1201" width="1" height="1.6" fill="#999"/>
<rect x="296.8" y="1201" width="1" height="1.6" fill="#999"/>
<text class="t" transform="scale(1.0900,1)" x="28.83 33.94 37.43 40.44 43.90 48.74 53.29" y="888.97" font-size="8.00">prt dst</text><rect x="44.08" y="890.03" width="3.77" height="0.72" fill="#111"/>
<text class="t" transform="scale(1.0900,1)" x="12.35 16.90 19.91 24.87 28.40 33.44 38.20 41.21 44.76 47.14 51.77" y="906.44" font-size="8.00">std pkt len</text><rect x="27.10" y="907.50" width="3.77" height="0.72" fill="#111"/><rect x="44.91" y="907.50" width="3.77" height="0.72" fill="#111"/>
<text class="t" transform="scale(1.0900,1)" x="34.28 36.64 41.52 44.86 49.34 52.24" y="923.92" font-size="8.00">ip src</text><rect x="45.26" y="924.98" width="3.77" height="0.72" fill="#111"/>
<text class="t" transform="scale(1.0900,1)" x="8.60 15.60 20.43 24.89 28.42 33.46 38.22 41.23 44.78 47.16 51.79" y="941.39" font-size="8.00">max pkt len</text><rect x="27.13" y="942.45" width="3.77" height="0.72" fill="#111"/><rect x="44.94" y="942.45" width="3.77" height="0.72" fill="#111"/>
<text class="t" transform="scale(1.0900,1)" x="-0.41 4.53 9.49 16.64 20.17 24.94 29.19 34.11 37.79 40.56 42.56 47.38 52.22" y="958.87" font-size="8.00">num psh flags</text><rect x="18.13" y="959.92" width="3.77" height="0.72" fill="#111"/><rect x="37.18" y="959.92" width="3.77" height="0.72" fill="#111"/>
<text class="t" transform="scale(1.0900,1)" x="33.21 35.56 40.45 43.91 48.75 53.30" y="976.34" font-size="8.00">ip dst</text><rect x="44.09" y="977.40" width="3.77" height="0.72" fill="#111"/>
<text class="t" transform="scale(1.0900,1)" x="29.90 35.01 38.51 41.51 44.85 49.33 52.23" y="993.81" font-size="8.00">prt src</text><rect x="45.25" y="994.87" width="3.77" height="0.72" fill="#111"/>
<text class="t" transform="scale(1.0900,1)" x="35.30 40.42 43.55 48.67 51.62" y="1011.29" font-size="8.00">proto</text>
<text class="t" transform="scale(1.0900,1)" x="2.74 7.68 12.65 19.79 23.48 26.54 31.10 34.10 37.77 40.54 42.55 47.37 52.21" y="1028.76" font-size="8.00">num rst flags</text><rect x="21.57" y="1029.82" width="3.77" height="0.72" fill="#111"/><rect x="37.17" y="1029.82" width="3.77" height="0.72" fill="#111"/>
<text class="t" transform="scale(1.0900,1)" x="26.19 33.19 38.02 42.48 46.04 48.17 53.30" y="1046.23" font-size="8.00">max iat</text><rect x="46.30" y="1047.29" width="3.77" height="0.72" fill="#111"/>
<text class="t" transform="scale(1.0900,1)" x="10.44 17.67 19.99 24.88 28.42 33.45 38.22 41.22 44.78 47.16 51.79" y="1063.71" font-size="8.00">min pkt len</text><rect x="27.12" y="1064.77" width="3.77" height="0.72" fill="#111"/><rect x="44.93" y="1064.77" width="3.77" height="0.72" fill="#111"/>
<text class="t" transform="scale(1.0900,1)" x="3.44 10.68 15.14 19.99 24.89 28.42 33.46 38.22 41.23 44.78 47.16 51.79" y="1081.18" font-size="8.00">mean pkt len</text><rect x="27.13" y="1082.24" width="3.77" height="0.72" fill="#111"/><rect x="44.94" y="1082.24" width="3.77" height="0.72" fill="#111"/>
<text class="t" transform="scale(1.0900,1)" x="14.34 19.28 24.25 31.39 34.93 39.82 44.63 47.73 52.21" y="1098.66" font-size="8.00">num bytes</text><rect x="34.22" y="1099.71" width="3.77" height="0.72" fill="#111"/>
<text class="t" transform="scale(1.0900,1)" x="0.28 5.22 10.19 17.33 20.83 25.95 29.14 34.10 37.77 40.54 42.55 47.37 52.20" y="1116.13" font-size="8.00">num urg flags</text><rect x="18.89" y="1117.19" width="3.77" height="0.72" fill="#111"/><rect x="37.17" y="1117.19" width="3.77" height="0.72" fill="#111"/>
<text class="t" transform="scale(1.0900,1)" x="28.03 35.27 37.58 42.48 46.04 48.17 53.30" y="1133.60" font-size="8.00">min iat</text><rect x="46.30" y="1134.66" width="3.77" height="0.72" fill="#111"/>
<text class="t" transform="scale(1.0900,1)" x="18.95 23.89 28.85 36.00 39.53 44.57 49.33 52.21" y="1151.08" font-size="8.00">num pkts</text><rect x="39.24" y="1152.13" width="3.77" height="0.72" fill="#111"/>
<text class="t" transform="scale(1.0900,1)" x="29.98 34.53 37.53 42.49 46.05 48.19 53.31" y="1168.55" font-size="8.00">std iat</text><rect x="46.32" y="1169.61" width="3.77" height="0.72" fill="#111"/>
<text class="t" transform="scale(1.0900,1)" x="21.03 28.27 32.73 37.58 42.48 46.04 48.17 53.30" y="1186.02" font-size="8.00">mean iat</text><rect x="46.30" y="1187.08" width="3.77" height="0.72" fill="#111"/>
<text class="t" transform="scale(1.0900,1)" x="50.62 57.35 61.49 66.00 70.62 73.63 75.69 80.49 85.69 90.76 95.57 97.84 101.87 106.44 108.59 113.23 117.64 120.22 122.80 125.11 127.85 132.35 136.61 141.10 143.93 148.40 153.10 157.38 159.71 161.89 168.60 173.00 177.22 181.58 184.38 186.57 191.07 195.62 197.93 204.52 208.99 213.69 218.05 220.17 222.37 226.87 231.70 234.56 239.14 243.97 246.76 249.07 255.58 260.05 264.69 269.33 271.74 274.56 279.11 283.81 288.45" y="1221.80" font-size="7.44">mean(|SHAP value|) (average impact on model output magnitude)</text>
<text class="t" transform="scale(1.0900,1)" x="58.67" y="1210.43" font-size="6.77">0</text>
<text class="t" transform="scale(1.0900,1)" x="248.44 252.48 254.67 258.72 262.70 266.73 270.76" y="1210.43" font-size="6.70">2.56997</text>
<path d="M301.91 1206.77L304.62 1209.47M301.91 1209.47L304.62 1206.77" stroke="#111" stroke-width="0.75" fill="none"/>
<text class="t" transform="scale(1.0900,1)" x="281.91 285.88" y="1210.43" font-size="6.57">10</text>
<text class="t" transform="scale(1.0900,1)" x="289.94 293.18" y="1207.42" font-size="4.77">−1</text>
<text class="c" transform="scale(1.0700,1)" x="52.01 56.74 63.27 68.80 73.40 83.50 93.92 102.84 107.02 114.93 125.26 138.64 143.14 154.57 162.00 169.76 176.22 180.26 184.53 191.91 199.72 204.03 214.87 222.46" y="1249.60" font-size="15.59">(e) RBF SVM model on Uni</text>
<rect x="243.33" y="1248.93" width="4.50" height="0.67" fill="#333"/>
<text class="c" transform="scale(1.0700,1)" x="231.50 235.54 239.01 245.67 256.13 260.62 268.56 275.85 281.01" y="1249.60" font-size="15.59">flow data</text>
</g>
<g id="pf">
<rect x="440" y="839" width="1" height="361.2" fill="#c9c9c9"/>
<rect x="440.00" y="849.79" width="197.80" height="12.05" fill="#008bfb"/>
<rect x="440.00" y="867.01" width="164.80" height="12.05" fill="#008bfb"/>
<rect x="440.00" y="884.23" width="103.50" height="12.05" fill="#008bfb"/>
<rect x="440.00" y="901.45" width="83.00" height="12.05" fill="#008bfb"/>
<rect x="440.00" y="918.67" width="67.60" height="12.05" fill="#008bfb"/>
<rect x="440.00" y="935.89" width="64.60" height="12.05" fill="#008bfb"/>
<rect x="440.00" y="953.11" width="64.60" height="12.05" fill="#008bfb"/>
<rect x="440.00" y="970.33" width="21.00" height="12.05" fill="#008bfb"/>
<rect x="440.00" y="987.54" width="20.50" height="12.05" fill="#008bfb"/>
<rect x="440.00" y="1004.76" width="18.50" height="12.05" fill="#008bfb"/>
<rect x="440.1" y="1199" width="208.0" height="1" fill="#b8b8b8"/>
<rect x="440.1" y="1200" width="208.0" height="1" fill="#b8b8b8"/>
<rect x="440.1" y="1201" width="1" height="1.6" fill="#999"/>
<rect x="647.1" y="1201" width="1" height="1.6" fill="#999"/>
<text class="t" transform="scale(1.0900,1)" x="339.04 341.89 348.11 353.00 356.29 360.78 363.73 368.62 372.11 377.07 381.76 384.72 388.23 390.57 395.14" y="859.17" font-size="7.89">fwd std pkt len</text><rect x="384.77" y="860.21" width="3.72" height="0.71" fill="#111"/><rect x="401.80" y="860.21" width="3.72" height="0.71" fill="#111"/><rect x="419.35" y="860.21" width="3.72" height="0.71" fill="#111"/>
<text class="t" transform="scale(1.0900,1)" x="337.00 341.89 348.11 353.00 356.30 360.78 363.74 368.63 372.11 377.07 381.77 384.73 388.24 390.58 395.14" y="876.39" font-size="7.89">bwd std pkt len</text><rect x="384.77" y="877.43" width="3.72" height="0.71" fill="#111"/><rect x="401.81" y="877.43" width="3.72" height="0.71" fill="#111"/><rect x="419.36" y="877.43" width="3.72" height="0.71" fill="#111"/>
<text class="t" transform="scale(1.0900,1)" x="378.91 383.95 387.04 392.08 394.99" y="893.61" font-size="7.89">proto</text>
<text class="t" transform="scale(1.0900,1)" x="376.85 379.17 383.98 387.39 392.16 396.64" y="910.82" font-size="7.89">ip dst</text><rect x="418.54" y="911.87" width="3.72" height="0.71" fill="#111"/>
<text class="t" transform="scale(1.0900,1)" x="377.91 380.22 385.04 388.33 392.74 395.60" y="928.04" font-size="7.89">ip src</text><rect x="419.69" y="929.08" width="3.72" height="0.71" fill="#111"/>
<text class="t" transform="scale(1.0900,1)" x="327.37 332.27 338.49 343.38 346.82 351.69 356.59 363.62 367.26 370.28 374.77 377.73 381.35 384.08 386.06 390.80 395.57" y="945.26" font-size="7.89">bwd num rst flags</text><rect x="374.28" y="946.30" width="3.72" height="0.71" fill="#111"/><rect x="396.35" y="946.30" width="3.72" height="0.71" fill="#111"/><rect x="411.72" y="946.30" width="3.72" height="0.71" fill="#111"/>
<text class="t" transform="scale(1.0900,1)" x="333.11 338.00 344.22 349.11 352.60 359.50 364.26 368.65 372.13 377.09 381.79 384.75 388.25 390.60 395.16" y="962.48" font-size="7.89">bwd max pkt len</text><rect x="380.53" y="963.52" width="3.72" height="0.71" fill="#111"/><rect x="401.83" y="963.52" width="3.72" height="0.71" fill="#111"/><rect x="419.38" y="963.52" width="3.72" height="0.71" fill="#111"/>
<text class="t" transform="scale(1.0900,1)" x="372.53 377.57 381.01 383.97 387.38 392.15 396.63" y="979.70" font-size="7.89">prt dst</text><rect x="418.53" y="980.74" width="3.72" height="0.71" fill="#111"/>
<text class="t" transform="scale(1.0900,1)" x="335.15 338.00 344.22 349.11 352.59 359.49 364.25 368.64 372.13 377.09 381.78 384.74 388.25 390.59 395.16" y="996.92" font-size="7.89">fwd max pkt len</text><rect x="380.53" y="997.96" width="3.72" height="0.71" fill="#111"/><rect x="401.82" y="997.96" width="3.72" height="0.71" fill="#111"/><rect x="419.37" y="997.96" width="3.72" height="0.71" fill="#111"/>
<text class="t" transform="scale(1.0900,1)" x="340.85 343.70 349.92 354.81 358.25 363.12 368.01 375.05 378.54 383.36 388.10 391.16 395.57" y="1014.14" font-size="7.89">fwd num bytes</text><rect x="386.74" y="1015.18" width="3.72" height="0.71" fill="#111"/><rect x="408.81" y="1015.18" width="3.72" height="0.71" fill="#111"/>
<text class="t" transform="scale(1.0900,1)" x="329.42 332.26 338.49 343.37 346.82 351.68 356.58 363.62 367.26 370.28 374.76 377.72 381.34 384.07 386.05 390.80 395.57" y="1031.36" font-size="7.89">fwd num rst flags</text><rect x="374.28" y="1032.40" width="3.72" height="0.71" fill="#111"/><rect x="396.34" y="1032.40" width="3.72" height="0.71" fill="#111"/><rect x="411.72" y="1032.40" width="3.72" height="0.71" fill="#111"/>
<text class="t" transform="scale(1.0900,1)" x="338.81 343.70 349.92 354.81 358.26 363.12 368.02 375.06 378.54 383.37 388.11 391.16 395.58" y="1048.58" font-size="7.89">bwd num bytes</text><rect x="386.75" y="1049.62" width="3.72" height="0.71" fill="#111"/><rect x="408.81" y="1049.62" width="3.72" height="0.71" fill="#111"/>
<text class="t" transform="scale(1.0900,1)" x="326.31 329.16 335.38 340.27 343.71 348.58 353.47 360.51 364.00 368.69 372.89 377.73 381.35 384.08 386.06 390.81 395.58" y="1065.80" font-size="7.89">fwd num psh flags</text><rect x="370.89" y="1066.84" width="3.72" height="0.71" fill="#111"/><rect x="392.96" y="1066.84" width="3.72" height="0.71" fill="#111"/><rect x="411.73" y="1066.84" width="3.72" height="0.71" fill="#111"/>
<text class="t" transform="scale(1.0900,1)" x="324.27 329.16 335.38 340.27 343.72 348.58 353.48 360.52 364.00 368.70 372.89 377.74 381.36 384.09 386.07 390.81 395.58" y="1083.01" font-size="7.89">bwd num psh flags</text><rect x="370.90" y="1084.06" width="3.72" height="0.71" fill="#111"/><rect x="392.96" y="1084.06" width="3.72" height="0.71" fill="#111"/><rect x="411.74" y="1084.06" width="3.72" height="0.71" fill="#111"/>
<text class="t" transform="scale(1.0900,1)" x="324.95 329.85 336.07 340.96 344.40 349.27 354.16 361.20 364.65 369.70 372.84 377.73 381.34 384.07 386.05 390.80 395.57" y="1100.23" font-size="7.89">bwd num urg flags</text><rect x="371.64" y="1101.28" width="3.72" height="0.71" fill="#111"/><rect x="393.71" y="1101.28" width="3.72" height="0.71" fill="#111"/><rect x="411.72" y="1101.28" width="3.72" height="0.71" fill="#111"/>
<text class="t" transform="scale(1.0900,1)" x="327.99 332.88 339.10 343.99 347.48 354.61 359.01 363.79 368.61 372.10 377.06 381.76 384.72 388.22 390.56 395.13" y="1117.45" font-size="7.89">bwd mean pkt len</text><rect x="374.95" y="1118.49" width="3.72" height="0.71" fill="#111"/><rect x="401.79" y="1118.49" width="3.72" height="0.71" fill="#111"/><rect x="419.34" y="1118.49" width="3.72" height="0.71" fill="#111"/>
<text class="t" transform="scale(1.0900,1)" x="336.96 339.81 346.03 350.92 354.40 361.54 363.81 368.64 372.13 377.09 381.78 384.74 388.25 390.59 395.16" y="1134.67" font-size="7.89">fwd min pkt len</text><rect x="382.50" y="1135.71" width="3.72" height="0.71" fill="#111"/><rect x="401.82" y="1135.71" width="3.72" height="0.71" fill="#111"/><rect x="419.37" y="1135.71" width="3.72" height="0.71" fill="#111"/>
<text class="t" transform="scale(1.0900,1)" x="334.92 339.81 346.03 350.92 354.41 361.54 363.82 368.65 372.13 377.09 381.79 384.75 388.25 390.60 395.16" y="1151.89" font-size="7.89">bwd min pkt len</text><rect x="382.51" y="1152.93" width="3.72" height="0.71" fill="#111"/><rect x="401.82" y="1152.93" width="3.72" height="0.71" fill="#111"/><rect x="419.37" y="1152.93" width="3.72" height="0.71" fill="#111"/>
<text class="t" transform="scale(1.0900,1)" x="327.00 329.84 336.06 340.95 344.40 349.26 354.16 361.20 364.65 369.69 372.83 377.72 381.34 384.07 386.05 390.79 395.56" y="1169.11" font-size="7.89">fwd num urg flags</text><rect x="371.64" y="1170.15" width="3.72" height="0.71" fill="#111"/><rect x="393.70" y="1170.15" width="3.72" height="0.71" fill="#111"/><rect x="411.71" y="1170.15" width="3.72" height="0.71" fill="#111"/>
<text class="t" transform="scale(1.0900,1)" x="330.07 332.91 339.13 344.02 347.51 354.64 359.04 363.82 368.64 372.13 377.09 381.78 384.74 388.25 390.59 395.16" y="1186.33" font-size="7.89">fwd mean pkt len</text><rect x="374.99" y="1187.37" width="3.72" height="0.71" fill="#111"/><rect x="401.82" y="1187.37" width="3.72" height="0.71" fill="#111"/><rect x="419.37" y="1187.37" width="3.72" height="0.71" fill="#111"/>
<text class="t" transform="scale(1.0900,1)" x="384.12 390.76 394.85 399.30 403.86 406.83 408.87 413.61 418.73 423.74 428.49 430.73 434.72 439.22 441.35 445.93 450.28 452.84 455.38 457.66 460.36 464.81 469.01 473.45 476.24 480.66 485.30 489.52 491.82 493.98 500.60 504.95 509.11 513.42 516.18 518.34 522.78 527.28 529.56 536.07 540.48 545.12 549.43 551.52 553.69 558.13 562.91 565.73 570.25 575.02 577.77 580.06 586.48 590.89 595.48 600.06 602.43 605.22 609.71 614.35 618.94" y="1221.00" font-size="7.34">mean(|SHAP value|) (average impact on model output magnitude)</text>
<text class="t" transform="scale(1.0900,1)" x="402.37" y="1210.38" font-size="6.67">0</text>
<text class="t" transform="scale(1.0900,1)" x="569.96 573.98 576.15 580.16 584.14 588.15 592.18" y="1210.38" font-size="6.65">1.18443</text>
<path d="M652.15 1206.77L654.81 1209.44M652.15 1209.44L654.81 1206.77" stroke="#111" stroke-width="0.74" fill="none"/>
<text class="t" transform="scale(1.0900,1)" x="603.15 607.06" y="1210.38" font-size="6.47">10</text>
<text class="t" transform="scale(1.0900,1)" x="611.07 614.26" y="1207.41" font-size="4.70">−1</text>
<text class="c" transform="scale(1.0700,1)" x="400.32 405.36 409.89 415.67 420.30 430.46 440.94 449.92 454.13 462.08 472.49 485.94 490.47 501.98 509.45 517.26 523.76 527.83 532.13 539.55 547.41 551.83 561.86" y="1247.60" font-size="15.68">(f) RBF SVM model on Bi</text>
<rect x="606.52" y="1246.92" width="4.52" height="0.68" fill="#333"/>
<text class="c" transform="scale(1.0700,1)" x="570.96 575.03 578.51 585.22 595.74 600.26 608.25 615.59 620.78" y="1247.60" font-size="15.68">flow data</text>
</g>
</svg>
</body></html>
